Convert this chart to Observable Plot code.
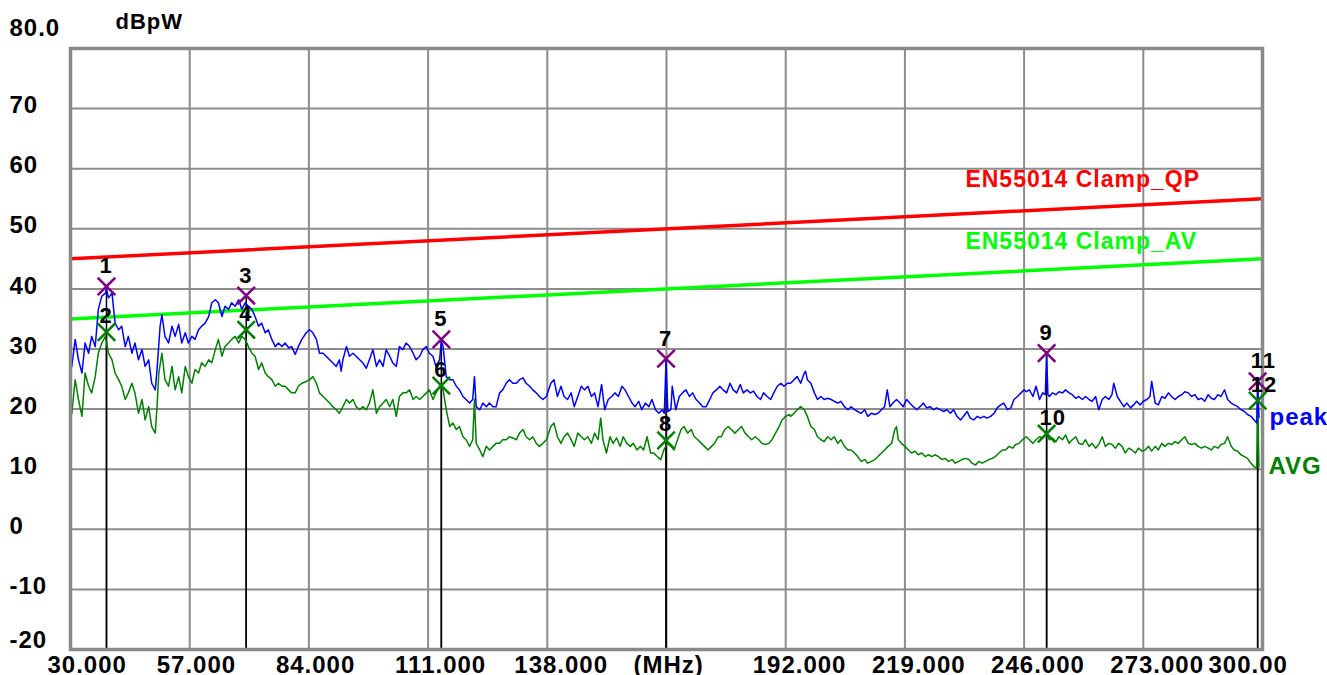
<!DOCTYPE html>
<html>
<head>
<meta charset="utf-8">
<script src="https://cdn.jsdelivr.net/npm/d3@7"></script>
<script src="https://cdn.jsdelivr.net/npm/@observablehq/plot@0.6"></script>
<style>
  html, body { margin: 0; padding: 0; background: #fff; }
  svg { display: block; }
</style>
</head>
<body>
<div id="chart"></div>
<script>
// ---- axis ticks ----
const xTicks = [30, 57, 84, 111, 138, 165, 192, 219, 246, 273, 300];
const xTickLabels = ["30.000", "57.000", "84.000", "111.000", "138.000", "(MHz)", "192.000", "219.000", "246.000", "273.000", "300.00"];
const yTicks = [70, 60, 50, 40, 30, 20, 10, 0, -10, -20];
const yTopLabel = "80.0";
const yUnit = "dBpW";

// ---- limit lines (MHz, dBpW) ----
const qpLimit = [[30, 45], [300, 55]];
const avLimit = [[30, 35], [300, 45]];
const limitNames = ["EN55014 Clamp_QP", "EN55014 Clamp_AV"];
const limitLabelPos = [[232.7, 56.9], [232.7, 46.7]];

// ---- markers ----
const markerNo = ["1", "2", "3", "4", "5", "6", "7", "8", "9", "10", "11", "12"];
const markerFreq = [38.15, 38.15, 69.8, 69.8, 114.0, 114.0, 164.9, 164.9, 251.1, 251.1, 298.9, 298.9];
const markerVal = [40.4, 32.8, 38.9, 33.2, 31.6, 23.9, 28.4, 14.8, 29.3, 15.9, 24.6, 21.4];
const markerDet = ["peak", "avg", "peak", "avg", "peak", "avg", "peak", "avg", "peak", "avg", "peak", "avg"];

// ---- traces (MHz, dBpW) ----
const peakTrace = [
[30,26.5],[30.3,27.1],[31.06,31.6],[31.8,28.2],[32.6,26],[33.3,31],[34.1,29.3],[34.8,32.1],[35.6,30.4],[36.3,36.6],[37.1,38.8],[37.9,39.3],[38.15,40.0],[38.6,38.5],[39.4,39.3],[40.1,34.3],[40.9,33.2],[41.6,33.8],[42.4,30.4],[43.1,32.1],[43.9,29.3],[44.6,31],[45.4,28.2],[46.2,29.9],[46.9,27.1],[47.7,28.2],[48.4,24.3],[49.2,23.2],[49.6,26.6],[50.3,33.8],[50.7,35.7],[51.4,32.1],[52.2,31],[53,33.8],[53.7,32.1],[54.5,34.1],[55.2,31],[56,32.7],[56.7,31],[57.5,32.1],[58.2,31.6],[59,33.2],[59.7,33.8],[60.5,34.3],[61.3,35.4],[62,37.7],[62.8,38.2],[63.5,37.7],[64.3,35.4],[65,37.1],[65.8,36.6],[66.5,37.7],[67.3,37.1],[68.1,38.2],[68.8,36.6],[69.6,37.7],[70.3,37.1],[71.1,36.6],[71.8,35.4],[72.6,33.8],[73.3,34.3],[74.1,32.7],[74.8,33.2],[75.6,31.6],[76.4,30.4],[77.1,31],[77.9,30.4],[78.6,31],[79.4,30.2],[80.1,30.4],[80.9,29.1],[81.6,30.4],[82.4,31.6],
[83.4,32.7],[84.15,33.2],[84.9,32.7],[85.7,31.6],[86.4,29.3],[87.2,29.3],[87.9,28.8],[88.7,28.2],[89.4,27.7],[90.2,27.1],[90.9,28.2],[91.3,26.3],[91.7,28.2],[92.5,30.4],[93.2,28.8],[94,29.3],[94.7,28.8],[95.5,28.2],[96.2,27.7],[97,26.8],[97.7,28.2],[98.5,29.9],[99.3,27.1],[100,28.2],[100.8,27.1],[101.5,29.9],[102.3,28.8],[103,27.7],[103.8,27.1],[104.5,30.4],[105.3,29.9],[106,31],[106.8,30.4],[107.6,29.3],[108.3,28.2],[109.1,28.8],[109.8,29.9],[110.6,30.4],[111.3,29.3],[112.1,28.8],[112.8,27.1],[113.6,28.2],[114.0,31.4],[114.4,30.4],[115.1,25.4],[115.9,24.9],[116.6,24.9],[117.4,23.8],[118.1,23.2],[118.9,22.1],[119.6,21.6],[120.4,21],[121.1,21.6],[121.5,25.4],[121.9,20.4],[122.7,19.9],[123.4,21],[124.2,20.4],[124.9,21],[125.7,20.4],[126.4,20.4],[127.2,22.7],[127.9,23.2],[128.7,24.3],[129.4,24.9],[130.2,24.3],[131,24.3],[131.7,24.9],[132.5,25.2],[133.2,24.3],[134,23.8],[134.7,23.2],[135.5,22.7],[136.2,22.1],[137,21.6],[137.8,22.1],
[138.8,24.3],[139.5,24.9],[140.3,22.1],[141.1,23.8],[141.8,22.1],[142.6,21.6],[143.4,22.7],[144.1,20.4],[144.9,22.1],[145.7,23.8],[146.4,23.2],[147.2,23.8],[148,22.1],[148.7,22.7],[149.5,20.4],[150.3,24.1],[151,19.9],[151.8,21.6],[152.6,22.1],[153.3,22.7],[154.1,22.1],[154.9,23.8],[155.6,23.2],[156.4,22.1],[157.2,21],[157.9,20.4],[158.7,21.3],[159.4,19.9],[160.2,21],[161,20.4],[161.7,21.6],[162.5,19.9],[163.3,19.3],[164,19.9],[164.5,19.3],[164.9,28.2],[165.3,19.6],[166,19.9],[166.3,23.8],[167.1,19.9],[167.9,22.1],[168.6,22.7],[169.4,23.2],[170.2,22.1],[170.9,22.7],[171.7,21.6],[172.5,21],[173.2,20.4],[174,20.4],[174.8,21.6],[175.5,22.7],[176.3,23.2],[177.1,23.8],[177.8,23.2],[178.6,22.7],[179.4,24.3],[180.1,23.2],[180.9,22.7],[181.7,24.1],[182.4,22.7],[183.2,23.2],[184,22.7],[184.7,23],[185.5,22.1],[186.3,21.6],[187,22.7],[187.8,22.1],[188.6,21.6],[189.3,22.7],[190.1,23.8],[190.9,24.3],[191.6,23.8],[192.4,24.3],
[193.1,24.3],[193.9,24.9],[194.6,25.4],[195.4,24.3],[196.2,26],[196.5,26.3],[196.9,24.9],[197.7,24.3],[198.5,22.7],[199.2,21.6],[200,22.1],[200.7,21.6],[201.5,21.8],[202.3,21.6],[203,21.3],[203.8,21],[204.5,21.3],[205.3,20.4],[206.1,19.9],[206.8,20.4],[207.6,19.9],[208.3,19.6],[209.1,19.3],[209.9,19.9],[210.6,18.8],[211.4,19.3],[212.2,19.1],[212.9,19.3],[213.7,19.9],[214.4,20.4],[215,23.2],[215.6,20.4],[216.3,21],[217.1,21.6],[217.9,21],[218.6,20.4],[219.4,21.6],[220.1,21],[220.9,20.4],[221.7,19.9],[222.4,20.4],[223.2,21],[223.9,20.2],[224.7,20.4],[225.5,19.9],[226.2,20.2],[227,19.9],[227.8,19.6],[228.5,19.9],[229.3,19.3],[230,19.9],[230.8,18.8],[231.6,18.2],[232.3,18.8],[233.1,19.6],[233.8,18.5],[234.6,18.2],[235.4,18.8],[236.1,18.5],[236.9,18.8],[237.6,18.5],[238.4,18.8],[239.2,19.3],[239.9,20.2],[240.7,20.7],[241.4,21],[242.2,19.9],[243,20.2],[243.7,21.6],[244.5,22.1],[245.3,22.7],[246,23.2],
[246.5,22.9],[247.2,23.2],[248,22.1],[248.7,23.8],[249.5,21.6],[250.2,22.7],[250.8,22.4],[251.1,29.1],[251.4,22.4],[251.7,22.1],[252.4,22.7],[253.2,22.4],[253.9,22.9],[254.7,22.7],[255.4,23.2],[256.2,22.7],[256.9,22.4],[257.7,21.8],[258.4,22.1],[259.2,21.6],[259.9,22.1],[260.7,21.6],[261.4,21.3],[262.2,22.1],[262.9,19.9],[263.7,21.6],[264.4,22.1],[265.2,21.6],[265.9,22.4],[266.3,24.3],[267.1,22.1],[267.8,21.3],[268.6,20.4],[269.3,21],[270.1,20.2],[270.8,20.7],[271.5,21.3],[272.3,20.7],[273,21.3],[273.8,21.6],[274.5,22.1],[274.9,24.6],[275.7,21],[276.4,20.7],[277.2,22.1],[277.9,21.8],[278.7,22.7],[279.4,22.1],[280.2,21.6],[280.9,22.1],[281.7,22.4],[282.4,22.9],[283.2,22.7],[283.9,22.1],[284.7,22.4],[285.4,21.6],[286.2,21.8],[286.9,21.3],[287.7,22.4],[288.4,21.8],[289.1,21.6],[289.9,22.4],[290.6,22.1],[291.4,23.2],[292.1,21.6],[292.9,21],[293.6,20.7],[294.4,20.4],[295.1,19.9],[295.9,19.6],[296.6,19.1],[297.4,18.8],[298.1,18.2],[298.7,17.7],[298.9,24.6],[299.2,18.6]
];

const avgTrace = [
[30,18.5],[30.3,19.3],[31.06,24.9],[31.8,21.6],[32.6,18.8],[33.3,26],[34.1,23.8],[34.8,22.7],[35.6,25.4],[36.3,29.3],[37.1,31],[37.9,32.1],[38.6,29.3],[39.4,28.2],[40.1,26],[40.9,24.9],[41.6,23.8],[42.4,21.6],[43.1,22.7],[43.9,24.3],[44.6,22.7],[45.4,19.3],[46.2,21.6],[46.9,18.2],[47.7,20.4],[48.4,17.1],[49.2,16],[49.6,20.4],[50.0,26],[50.7,29.3],[51.4,24.9],[52.2,23.8],[53,27.1],[53.7,23.2],[54.5,25.4],[55.2,22.7],[56,27.1],[56.7,25.4],[57.5,24.3],[58.2,26.6],[59,26],[59.7,27.7],[60.5,27.1],[61.3,28.2],[62,27.7],[62.8,29.9],[63.5,31.6],[64.3,28.8],[65,30.4],[65.8,31],[66.5,31.6],[67.3,32.1],[68.1,31],[68.8,32.1],[69.6,31.6],[70.3,30.4],[71.1,29.3],[71.8,28.8],[72.6,26.6],[73.3,27.7],[74.1,26],[74.8,25.4],[75.6,24.9],[76.4,23.8],[77.1,24.3],[77.9,23.8],[78.6,23.8],[79.4,23.2],[80.1,22.7],[80.9,22.7],[81.6,23.8],[82.4,24.3],
[83.4,24.6],[84.15,24.9],[84.9,25.4],[85.7,24.3],[86.4,22.7],[87.2,22.1],[87.9,21.6],[88.7,21],[89.4,20.4],[90.2,19.9],[90.9,19.3],[91.7,20.4],[92.5,21.6],[93.2,21],[94,21.6],[94.7,20.4],[95.5,19.9],[96.2,20.4],[97,19.9],[97.7,21],[98.5,23.2],[99.3,19.3],[100,20.4],[100.8,21],[101.5,21.6],[102.3,20.4],[103,21.6],[103.8,18.8],[104.5,22.1],[105.3,22.7],[106,22.7],[106.8,23.2],[107.6,21.6],[108.3,22.1],[109.1,21.6],[109.8,22.1],[110.6,22.7],[111.3,23.2],[112.1,21.6],[112.8,22.7],[113.6,23.8],[114.4,23.2],[115.1,19.9],[115.9,17.1],[116.6,17.7],[117.4,16.6],[118.1,17.1],[118.9,15.4],[119.6,14.9],[120.4,13.8],[121.1,14.9],[121.5,21.6],[121.9,14.3],[122.7,13.2],[123.4,12.1],[124.2,13.8],[124.9,13.2],[125.7,13.8],[126.4,14.3],[127.2,14.3],[127.9,14.9],[128.7,14.9],[129.4,15.4],[130.2,15.2],[131,14.9],[131.7,16],[132.5,16.6],[133.2,15.4],[134,14.9],[134.7,15.4],[135.5,14.3],[136.2,13.8],[137,14.3],[137.8,14.9],
[138.8,17.1],[139.5,17.7],[140.3,15.4],[141.1,14.3],[141.8,15.4],[142.6,16],[143.4,14.9],[144.1,13.8],[144.9,16],[145.7,15.4],[146.4,14.9],[147.2,15.4],[148,14.3],[148.7,16],[149.5,14.9],[150.1,18.5],[150.6,14.9],[151.4,12.7],[152.2,15.4],[152.9,14.3],[153.7,15.2],[154.5,13.8],[155.2,15.4],[156,14.3],[156.8,13.8],[157.5,14.3],[158.3,13.2],[159.1,13.8],[159.8,13.2],[160.6,15.4],[161.4,12.7],[162.1,12.7],[162.9,12.1],[163.7,11.6],[164.4,13.2],[165.2,14.3],[166,13.8],[166.7,13.2],[167.5,14.9],[168.3,16.6],[169,17.1],[169.8,16],[170.6,16.6],[171.3,15.4],[172.1,14.9],[172.9,14.3],[173.6,13.8],[174.4,13.2],[175.2,13.8],[175.9,14.3],[176.7,15.4],[177.4,15.4],[178.2,16.6],[179,17.1],[179.7,16.6],[180.5,16],[181.3,16.6],[182,17.1],[182.8,16],[183.6,15.4],[184.3,14.9],[185.1,15.4],[185.9,14.9],[186.6,14.3],[187.4,14.1],[188.2,14.3],[188.9,14.9],[189.7,16],[190.5,17.1],[191.2,18.2],[192,18.8],[192.8,19.1],
[193.1,18.8],[193.9,19.3],[194.6,19.9],[195.4,20.4],[196.2,19.9],[196.9,18.8],[197.7,17.1],[198.5,16.6],[199.2,15.4],[200,14.9],[200.7,14.6],[201.5,15.4],[202.3,14.9],[203,15.4],[203.8,14.3],[204.5,14.9],[205.3,13.8],[206.1,13.2],[206.8,13.2],[207.6,12.7],[208.3,12.1],[209.1,11.3],[209.9,11.6],[210.6,11],[211.4,11.3],[212.2,11.6],[212.9,12.1],[213.7,12.7],[214.4,13.2],[215.2,13.8],[216,14.3],[216.7,16.6],[217.1,17.1],[217.5,14.9],[218.2,14.3],[219,13.8],[219.8,13.2],[220.5,12.7],[221.3,13],[222,12.4],[222.8,12.7],[223.6,12.1],[224.3,12.4],[225.1,12.1],[225.8,12.4],[226.6,12.1],[227.4,11.6],[228.1,11.8],[228.9,11.3],[229.7,11.6],[230.4,11],[231.2,11.3],[231.9,11.6],[232.7,11.8],[233.5,11.6],[234.2,11],[235,10.7],[235.7,11.3],[236.5,11],[237.3,11.3],[238,11.6],[238.8,11.8],[239.5,12.1],[240.3,12.7],[241.1,13.2],[241.8,13.2],[242.6,13.8],[243.4,13.5],[244.1,14.1],[244.9,14.3],[245.6,14.9],
[246.5,15.4],[247.2,14.9],[248,14.3],[248.7,14.9],[249.5,15.4],[250.2,15.2],[251.1,16],[251.7,14.9],[252.4,15.2],[253.2,14.6],[253.9,15.4],[254.7,14.9],[255.4,15.7],[256.2,14.3],[256.9,14.9],[257.7,15.4],[258.4,14.3],[259.2,14.1],[259.9,14.9],[260.7,13.8],[261.4,14.3],[262.2,13.5],[262.9,14.1],[263.7,15.4],[264.4,13.8],[265.2,14.3],[265.9,14.1],[266.7,13.5],[267.4,14.3],[268.2,13.8],[268.9,12.7],[269.7,13.5],[270.4,13.2],[271.2,12.7],[271.9,13.5],[272.7,13],[273.4,13.2],[274.2,13.8],[274.9,13],[275.7,13.8],[276.4,13.2],[277.2,14.3],[277.9,13.8],[278.7,14.3],[279.4,14.1],[280.2,14.6],[280.9,14.3],[281.7,14.9],[282.4,15.4],[283.2,14.3],[283.9,14.1],[284.7,14.3],[285.4,13.8],[286.2,13.5],[286.9,13.8],[287.7,13.5],[288.4,13.2],[289.1,13.8],[289.9,13.5],[290.6,14.1],[291.4,14.3],[292.1,15.4],[292.9,13.8],[293.6,13.2],[294.4,13],[295.1,12.4],[295.9,12.1],[296.6,11.8],[297.4,11],[298.1,10.4],[298.7,10.2],[298.9,21.4],[299.2,10.4]
];
const traceNames = ["peak", "AVG"];

// ---- build tables ----
const toRows = arr => arr.map(([f, v]) => ({f, v}));
const peakRows = toRows(peakTrace);
const avgRows = toRows(avgTrace);
const markers = markerNo.map((n, i) => ({n, f: markerFreq[i], v: markerVal[i], det: markerDet[i]}));
const peakMarkers = markers.filter(d => d.det === "peak");
const avgMarkers = markers.filter(d => d.det === "avg");
const limitLabels = limitNames.map((t, i) => ({t, f: limitLabelPos[i][0], v: limitLabelPos[i][1]}));
const traceEnds = [
  {t: traceNames[0], v: peakTrace[peakTrace.length - 1][1]},
  {t: traceNames[1], v: avgTrace[avgTrace.length - 1][1]}
];
const xLab = xTicks.map((x, i) => ({x, t: xTickLabels[i]}));
const last = xLab.length - 1;

const BLUE = "#0000ff", GREEN = "#008000", RED = "#ff0000", LIME = "#00ff00", PURPLE = "#800080", GRID = "#8c8c8c";

const chart = Plot.plot({
  width: 1327,
  height: 675,
  marginLeft: 70,
  marginRight: 65,
  marginTop: 48,
  marginBottom: 26,
  x: {domain: [30, 300], axis: null},
  y: {domain: [-20, 80], axis: null},
  style: {
    fontFamily: "'Liberation Sans', Arial, sans-serif",
    fontWeight: "bold",
    letterSpacing: "1px",
    background: "#ffffff",
    overflow: "visible"
  },
  marks: [
    // grid
    Plot.ruleY(yTicks.filter(d => d > -20), {stroke: GRID, strokeWidth: 2}),
    Plot.ruleX(xTicks.filter(d => d > 30 && d < 300), {stroke: GRID, strokeWidth: 2}),
    // marker drop lines
    Plot.ruleX(peakMarkers, {x: "f", y1: -20, y2: "v", stroke: "#000", strokeWidth: 1.5}),
    Plot.ruleX(avgMarkers, {x: "f", y1: -20, y2: "v", stroke: "#000", strokeWidth: 1.5}),
    // limits
    Plot.line(toRows(qpLimit), {x: "f", y: "v", stroke: RED, strokeWidth: 3.5}),
    Plot.line(toRows(avLimit), {x: "f", y: "v", stroke: LIME, strokeWidth: 3.5}),
    // traces
    Plot.line(avgRows, {x: "f", y: "v", stroke: GREEN, strokeWidth: 1.5}),
    Plot.line(peakRows, {x: "f", y: "v", stroke: BLUE, strokeWidth: 1.5}),
    // frame
    Plot.frame({stroke: "#8a8a8a", strokeWidth: 3.5}),
    // marker symbols
    Plot.dot(peakMarkers, {x: "f", y: "v", symbol: "times", r: 8, stroke: PURPLE, strokeWidth: 2.5}),
    Plot.dot(avgMarkers, {x: "f", y: "v", symbol: "times", r: 8, stroke: GREEN, strokeWidth: 2.5}),
    // marker numbers
    Plot.text(peakMarkers, {x: "f", y: "v", text: "n", dy: -13, dx: -7, textAnchor: "start", lineAnchor: "bottom", fontSize: 22, fill: "#000", fontWeight: "bold"}),
    Plot.text(avgMarkers, {x: "f", y: "v", text: "n", dy: -9, dx: -7, textAnchor: "start", lineAnchor: "bottom", fontSize: 22, fill: "#000", fontWeight: "bold"}),
    // limit labels
    Plot.text(limitLabels.slice(0, 1), {x: "f", y: "v", text: "t", textAnchor: "start", lineAnchor: "bottom", fontSize: 23, fill: RED, fontWeight: "bold"}),
    Plot.text(limitLabels.slice(1, 2), {x: "f", y: "v", text: "t", textAnchor: "start", lineAnchor: "bottom", fontSize: 23, fill: LIME, fontWeight: "bold"}),
    // trace end labels
    Plot.text(traceEnds.slice(0, 1), {frameAnchor: "right", y: "v", text: "t", textAnchor: "start", dx: 7, fontSize: 24, fill: BLUE, fontWeight: "bold"}),
    Plot.text(traceEnds.slice(1, 2), {frameAnchor: "right", y: "v", text: "t", textAnchor: "start", dx: 6, fontSize: 24, fill: GREEN, fontWeight: "bold"}),
    // y tick labels
    Plot.text(yTicks.filter(d => d > -20), {y: d => d, text: d => String(d), frameAnchor: "left", textAnchor: "start", dx: -61, dy: -3, fontSize: 24, fill: "#000", fontWeight: "bold"}),
    Plot.text(yTicks.filter(d => d === -20), {y: d => d, text: d => String(d), frameAnchor: "left", textAnchor: "start", dx: -61, dy: -9, fontSize: 24, fill: "#000", fontWeight: "bold"}),
    Plot.text([yTopLabel], {text: d => d, frameAnchor: "top-left", textAnchor: "start", lineAnchor: "bottom", dx: -61, dy: -13, fontSize: 24, fill: "#000", fontWeight: "bold"}),
    Plot.text([yUnit], {text: d => d, frameAnchor: "top-left", textAnchor: "start", lineAnchor: "bottom", dx: 45, dy: -20, fontSize: 22, fill: "#000", fontWeight: "bold"}),
    // x tick labels
    Plot.text(xLab.filter((d, i) => i === 0), {x: "x", text: "t", frameAnchor: "bottom", textAnchor: "start", lineAnchor: "bottom", dx: -23, dy: 23, fontSize: 24, fill: "#000", fontWeight: "bold"}),
    Plot.text(xLab.filter((d, i) => i > 0 && i < last), {x: "x", text: "t", frameAnchor: "bottom", textAnchor: "start", lineAnchor: "bottom", dx: -33, dy: 23, fontSize: 24, fill: "#000", fontWeight: "bold"}),
    Plot.text(xLab.filter((d, i) => i === last), {x: "x", text: "t", frameAnchor: "bottom", textAnchor: "start", lineAnchor: "bottom", dx: -54, dy: 23, fontSize: 24, fill: "#000", fontWeight: "bold"})
  ]
});
document.getElementById("chart").appendChild(chart);
</script>
</body>
</html>
